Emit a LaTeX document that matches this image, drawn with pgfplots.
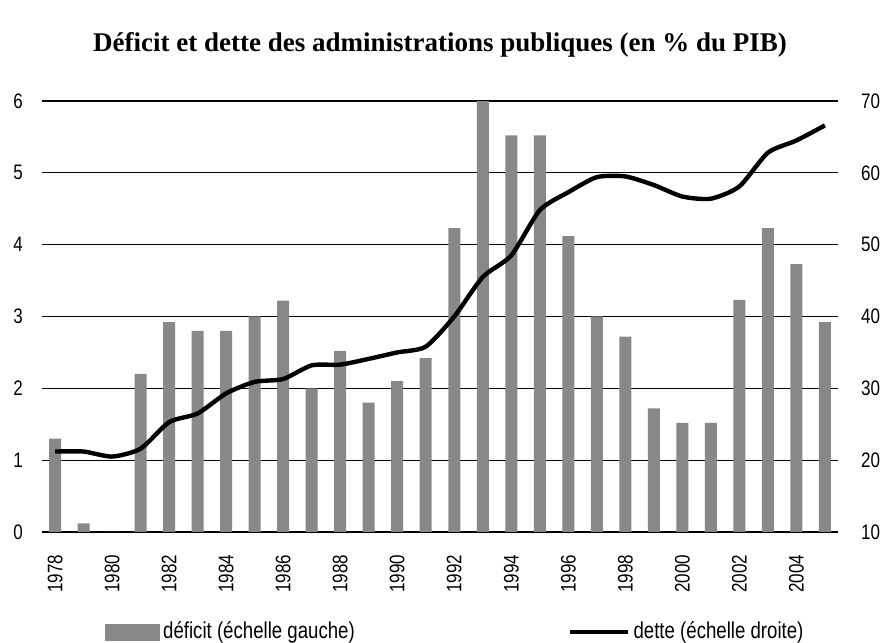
\documentclass[border=0pt]{standalone}
\usepackage{fontspec}
\setmainfont{Liberation Sans}[FakeStretch=0.81]
\newfontfamily\titlefont{Liberation Serif}
\usepackage{pgfplots}
\pgfplotsset{compat=1.18}
\definecolor{barc}{HTML}{888888}
\begin{document}
\begin{tikzpicture}
\path[use as bounding box] (0,0) rectangle (440pt,321.5pt);
\node[font=\titlefont\bfseries\fontsize{13.5}{15}\selectfont] at (220pt,299pt) {Déficit et dette des administrations publiques (en \% du PIB)};
\begin{axis}[
  at={(21pt,55.5pt)}, anchor=south west, scale only axis,
  width=398pt, height=215.5pt,
  xmin=1977.54, xmax=2005.46, ymin=0, ymax=6,
  axis line style={draw=none},
  major tick length=0pt,
  ytick={0,1,...,6},
  ymajorgrids, grid style={black, line width=0.6pt},
  xtick={1978,1980,...,2004},
  xticklabel style={rotate=90, anchor=east, font=\fontsize{10.5}{12}\selectfont, xshift=-8pt},
  yticklabel style={font=\fontsize{10.5}{12}\selectfont, xshift=-6pt},
  /pgf/number format/assume math mode=true,
  /pgf/number format/1000 sep={},
  clip=false,
]
\addplot[ybar, bar width=6pt, fill=barc, draw=none] coordinates {
(1978,1.3) (1979,0.12) (1980,0) (1981,2.2) (1982,2.92) (1983,2.8) (1984,2.8)
(1985,3.0) (1986,3.22) (1987,2.0) (1988,2.52) (1989,1.8) (1990,2.1) (1991,2.42)
(1992,4.23) (1993,6.0) (1994,5.52) (1995,5.52) (1996,4.12) (1997,3.0) (1998,2.72)
(1999,1.72) (2000,1.52) (2001,1.52) (2002,3.23) (2003,4.23) (2004,3.73) (2005,2.92)
};
\end{axis}
\begin{axis}[
  at={(21pt,55.5pt)}, anchor=south west, scale only axis,
  width=398pt, height=215.5pt,
  xmin=1977.54, xmax=2005.46, ymin=10, ymax=70,
  axis line style={draw=none},
  axis y line*=right, axis x line=none,
  major tick length=0pt,
  ytick={10,20,...,70},
  yticklabel style={font=\fontsize{10.5}{12}\selectfont, xshift=8pt},
  /pgf/number format/assume math mode=true,
  /pgf/number format/1000 sep={},
  legend columns=2,
  legend style={at={(0.52,-0.232)}, anchor=center, draw=none, fill=none,
    font=\fontsize{11.5}{12}\selectfont, inner sep=0pt,
    nodes={inner xsep=1.5pt},
    /tikz/every even column/.append style={column sep=105pt}},
  legend cell align=left,
]
\addlegendimage{legend image code/.code={\fill[barc] (0pt,-4pt) rectangle (27pt,4pt);}}
\addlegendentry{déficit (échelle gauche)}
\addlegendimage{legend image code/.code={\draw[black, line width=2.4pt] (0pt,0pt) -- (29pt,0pt);}}
\addlegendentry{dette (échelle droite)}
\addplot[black, line width=2.2pt, smooth, tension=0.4, forget plot] coordinates {
(1978,21.2) (1979,21.2) (1980,20.5) (1981,21.6) (1982,25.3) (1983,26.5) (1984,29.3)
(1985,30.9) (1986,31.3) (1987,33.2) (1988,33.3) (1989,34.1) (1990,35.0) (1991,35.8)
(1992,40.0) (1993,45.5) (1994,48.5) (1995,54.8) (1996,57.3) (1997,59.4) (1998,59.5)
(1999,58.3) (2000,56.7) (2001,56.4) (2002,58.1) (2003,62.8) (2004,64.5) (2005,66.6)
};
\end{axis}
\end{tikzpicture}
\end{document}
